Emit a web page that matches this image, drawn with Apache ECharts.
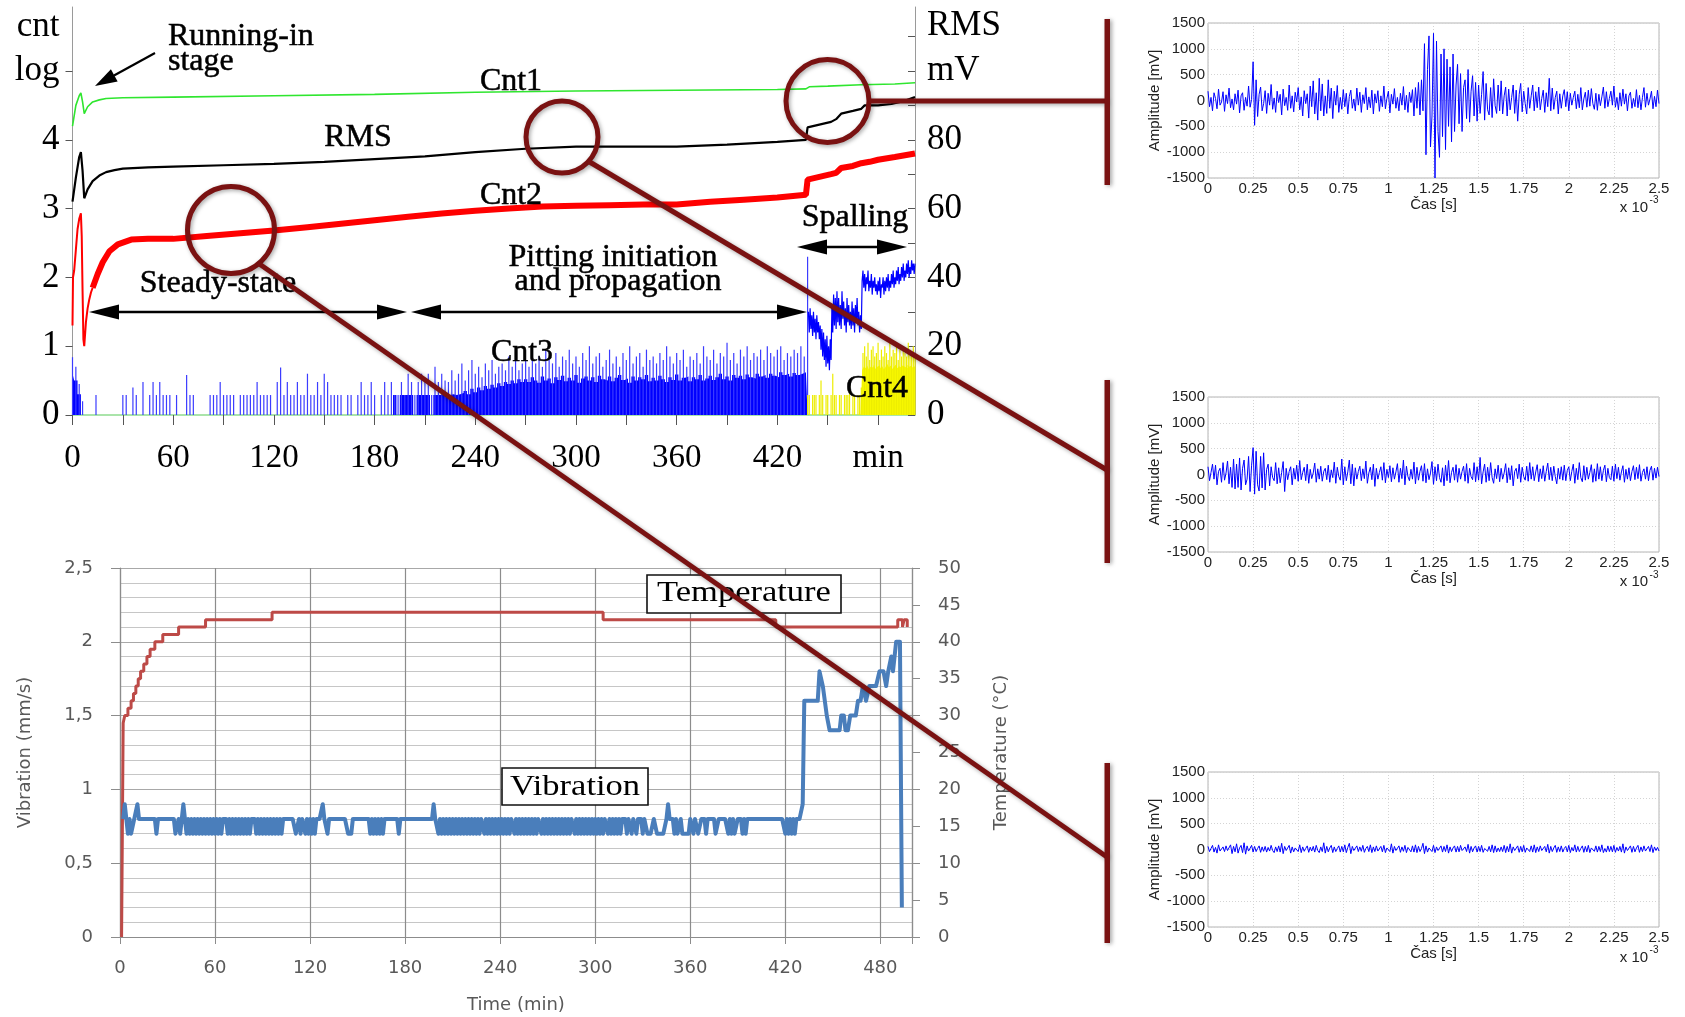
<!DOCTYPE html>
<html><head><meta charset="utf-8"><title>AE monitoring</title>
<script src="https://cdn.jsdelivr.net/npm/echarts@6.0.0/dist/echarts.min.js"></script>
<style>html,body{margin:0;padding:0;background:#fff;}#chart{width:1685px;height:1017px;}</style>
</head><body><div id="chart"></div>
<script>
// ================= TOP-LEFT CHART: AE counts (log) and RMS =================
const topXTickValues = [0,30,60,90,120,150,180,210,240,270,300,330,360,390,420,450,480];
const topXLabelValues = [0,60,120,180,240,300,360,420,480];   // 480 is printed as "min"
const cntTickValues = [0,1,2,3,4,5];
const cntLabelValues = [0,1,2,3,4,5,5.64];                      // 5 -> "log", 5.64 -> "cnt"
const rmsTickValues = [0,10,20,30,40,50,60,70,80,90,100,110];
const rmsLabelValues = [0,20,40,60,80,100,113];                 // 100 -> "mV", 113 -> "RMS"
const TOP_MAX = 5.93;

// Cnt1 (green)
const cnt1T = [0,2,4,5,6,7,9,12,16,20,30,60,120,180,240,300,360,420,437,439,450,470,490,502];
const cnt1V = [4.2,4.5,4.64,4.68,4.55,4.38,4.48,4.55,4.58,4.6,4.61,4.62,4.64,4.66,4.69,4.71,4.72,4.73,4.74,4.77,4.78,4.8,4.81,4.83];

// RMS (black, mV)
const rmsT = [0,2,4,5,6,7,9,12,16,20,25,30,45,60,90,120,150,180,210,240,270,300,330,360,390,420,437,438,445,452,455,458,465,470,472,480,488,495,502];
const rmsV = [62,69,75,76.4,71,63,65.6,68,69.6,70.6,71.2,71.6,72,72.2,72.6,73,73.6,74.4,75.2,76.4,77.4,78,78,78,78.6,79.4,80,83.6,84.4,85.2,86,87.6,88.4,89,90,90,90.4,91.2,92.4];

// Cnt2 (red) – running-in part and remaining part
const cnt2EarlyT = [0,0.3,1,2,3,4,5,5.5,6,6.5,7,8,9,10,11,12];
const cnt2EarlyV = [1.3,2.0,2.1,2.4,2.7,2.85,2.93,2.6,1.8,1.1,1.0,1.35,1.55,1.68,1.78,1.85];
const cnt2T = [12,15,18,22,27,35,45,60,80,100,120,140,160,180,200,220,240,260,280,300,320,340,360,380,400,420,437,438,445,452,455,458,465,470,475,480,490,502];
const cnt2V = [1.85,2.05,2.22,2.38,2.48,2.55,2.56,2.56,2.6,2.64,2.68,2.73,2.78,2.83,2.88,2.93,2.97,3.0,3.03,3.04,3.05,3.06,3.06,3.1,3.13,3.16,3.2,3.42,3.46,3.5,3.52,3.59,3.62,3.66,3.68,3.71,3.75,3.8];

// Cnt3 (blue) sampled every 2 min from t = 0 to 438: solid level and thin peaks
const CNT3_START = 0, CNT3_STEP = 2;
const cnt3Fill = [
 0.6,0.5,0.3,0,0,
 0,0,0,0,0,0,0,0,0,0, 0,0,0,0,0,0,0,0,0,0, 0,0,0,0,0,0,0,0,0,0,
 0,0,0,0,0,0,0,0,0,0, 0,0,0,0,0,0,0,0,0,0, 0,0,0,0,0,0,0,0,0,0,
 0,0,0,0,0,0,0,0,0,0, 0,0,0,0,0,0,0,0,0,0, 0,0,0,0,0,0,0,0,0,0,
 0,0.29,0,0.29,0.29,
 0.29,0.29,0,0.29,0.29,0.29,0.29,0,0.29,0.29,0.29,0.29,0.29,0.3,0.29,
 0.3,0.32,0.35,0.3,0.38,0.33,0.4,0.36,0.42,0.38,0.44,0.4,0.46,0.42,0.48,0.45,0.5,0.46,0.52,0.48,
 0.52,0.48,0.55,0.5,0.47,0.56,0.5,0.53,0.46,0.55,
 0.51,0.57,0.49,0.54,0.5,0.58,0.47,0.53,0.56,0.5,
 0.55,0.48,0.57,0.52,0.5,0.56,0.49,0.54,0.58,0.51,
 0.53,0.47,0.56,0.5,0.55,0.52,0.58,0.49,0.54,0.5,
 0.57,0.52,0.48,0.55,0.51,0.59,0.5,0.54,0.56,0.49,
 0.55,0.52,0.58,0.5,0.53,0.57,0.51,0.55,0.6,0.52,
 0.56,0.5,0.58,0.54,0.57,0.52,0.59,0.55,0.53,0.6,
 0.56,0.58,0.54,0.6,0.57,0.55,0.62,0.58,0.6,0.56,
 0.61,0.58,0.6,0.62,0.6
];
const cnt3Peak = [
 0.84,0.7,0.45,0.2,0,
 0,0,0.29,0,0,0,0,0,0,0,
 0.29,0.29,0,0.4,0.29,0,0.48,0,0.29,0.48,
 0.29,0.48,0.29,0.29,0.29,0,0.29,0,0,0.58,
 0.29,0.29,0,0,0,0,0.29,0.29,0.29,0.48,
 0.29,0.29,0.29,0.29,0,0.29,0.29,0.29,0.29,0.29,
 0.48,0.29,0.29,0.29,0.29,0,0.48,0.69,0.29,0.48,
 0.29,0.29,0.48,0.29,0.29,0.6,0.29,0.29,0.48,0.29,
 0.6,0.48,0.29,0.29,0.29,0.29,0,0.29,0.29,0,
 0.29,0.48,0.29,0.29,0.48,0.29,0,0.29,0.48,0.29,
 0.48,0.29,0.29,0.48,0.29,0.6,0.48,0.29,0.48,0.6,
 0.48,0.6,0.29,0.7,0.48,0.6,0.5,0.48,0.65,0.5,
 0.6,0.75,0.5,0.65,0.8,0.6,0.7,0.55,0.75,0.65,
 0.8,0.6,0.7,0.75,0.65,0.85,0.7,0.8,0.65,0.75,
 0.8,0.7,0.9,0.75,0.85,0.7,0.95,0.8,0.75,0.9,
 0.7,0.85,0.8,0.95,0.75,0.85,0.7,0.9,0.8,1.0,
 0.75,0.85,0.9,0.7,0.8,0.95,0.75,0.85,0.7,0.9,
 0.8,1.0,0.75,0.85,0.9,0.7,0.95,0.8,0.85,0.75,
 0.9,0.8,1.0,0.85,0.75,0.9,0.8,0.95,0.7,0.85,
 0.8,0.9,0.75,1.0,0.85,0.8,0.95,0.75,0.9,0.85,
 1.05,0.8,0.9,0.75,0.95,0.85,1.0,0.8,0.9,0.85,
 0.95,0.8,1.0,0.9,0.85,0.95,1.0,0.8,0.9,0.85,
 0.95,0.9,1.0,0.85,2.3
];

// Cnt3 during spalling (blue noisy trace), every 0.5 min from 438.5 to 502
const SPALL_START = 438.5, SPALL_STEP = 0.5;
const spallV = [
 1.5,1.2,1.55,1.25,1.45,1.15,1.5,1.2,1.4,1.1,1.45,1.2,1.35,1.1,
 1.3,0.95,1.25,0.85,1.2,0.8,1.1,0.7,1.15,0.75,1.0,0.65,1.1,0.8,
 1.6,1.2,1.75,1.3,1.7,1.25,1.8,1.35,
 1.7,1.3,1.6,1.25,1.8,1.4,1.65,1.3,1.55,1.2,1.7,1.35,1.6,1.3,1.5,1.25,1.65,1.3,1.55,1.2,1.6,1.35,1.7,1.3,1.5,1.2,1.45,1.25,
 1.95,2.1,1.85,2.05,1.8,2.0,1.9,2.1,1.8,1.95,
 1.85,2.05,1.75,1.95,1.85,2.0,1.8,1.9,1.75,1.95,
 1.8,2.0,1.7,1.9,1.85,2.0,1.75,1.95,1.8,2.0,
 1.85,2.05,1.8,1.95,1.85,2.05,1.9,2.1,1.85,2.0,
 1.9,2.1,1.95,2.15,1.9,2.05,1.95,2.15,2.0,2.2,
 1.95,2.1,2.0,2.2,2.05,2.25,2.0,2.15,2.05,2.25,
 2.1,2.2,2.05,2.2
];

// Cnt4 (yellow), every 1 min from 438 to 502
const CNT4_START = 438, CNT4_STEP = 1;
const cnt4Fill = [
 0,0,0,0,0,0,0,0,0,0, 0,0,0,0,0,0,0,0,0,0, 0,0,0,0,0,0,0,0,0,0, 0,0,0,
 0.65,0.7,0.68,0.72,0.66,0.7,0.69,0.73,0.67,0.7,
 0.72,0.68,0.71,0.66,0.7,0.74,0.69,0.72,0.67,0.7,
 0.73,0.68,0.71,0.69,0.72,0.7,0.68,0.73,0.7,0.72,
 0.69,0.71
];
const cnt4Peak = [
 0.29,0.29,0,0.29,0.29,0.29,0,0.29,0.5,0.29,
 0,0.29,0.29,0,0.29,0.6,0.29,0.29,0,0.29,
 0.29,0,0.29,0.29,0.29,0.45,0,0.29,0.29,0,
 0.29,0.29,0.4,
 0.9,1.0,0.85,1.05,0.8,0.95,1.0,0.85,0.9,1.05,
 0.8,0.95,0.85,1.0,0.9,0.8,1.05,0.85,0.95,0.9,
 1.0,0.8,0.95,0.85,1.0,0.9,0.85,1.05,0.95,0.9,
 1.0,0.85
];

// ================= BOTTOM-LEFT CHART: vibration and temperature =================
const tempT = [1,2,3,5,7,8.5,10,11.5,13,15,17,19,22,27,37,54,96,305,414,491,494,495,497];
const tempV = [0,29,30,31,32,33,34,35,36,37,38,39,40,41,42,43,44,43,42,43,42,43,42];

const VIB_START = 2, VIB_STEP = 1;   // vibration sampled every minute, t = 2 ... 429
const vibV = [
 0.8,0.9,0.8,0.7,0.8,0.7,0.7,0.8,0.8,0.9,
 0.8,0.8,0.8,0.8,0.8,0.8,0.8,0.8,0.8,0.8,
 0.8,0.7,0.8,0.8,0.8,0.8,0.8,0.8,0.8,0.8,
 0.8,0.8,0.8,0.7,0.7,0.8,0.7,0.8,0.9,0.8,
 0.7,0.8,0.7,0.8,0.7,0.8,0.7,0.8,0.7,0.8,
 0.7,0.8,0.7,0.8,0.7,0.8,0.7,0.8,0.7,0.8,
 0.7,0.8,0.7,0.8,0.8,0.8,0.7,0.8,0.7,0.8,
 0.7,0.8,0.7,0.8,0.7,0.8,0.7,0.8,0.7,0.8,
 0.7,0.8,0.8,0.8,0.7,0.8,0.7,0.8,0.7,0.8,
 0.7,0.8,0.7,0.8,0.7,0.8,0.7,0.8,0.7,0.8,
 0.7,0.8,0.8,0.8,0.8,0.8,0.8,0.8,0.8,0.7,
 0.7,0.8,0.7,0.8,0.8,0.7,0.8,0.7,0.8,0.7,
 0.8,0.7,0.8,0.8,0.8,0.8,0.9,0.8,0.8,0.7,
 0.8,0.8,0.8,0.8,0.8,0.8,0.8,0.8,0.8,0.8,
 0.8,0.8,0.7,0.7,0.7,0.8,0.8,0.8,0.8,0.8,
 0.8,0.8,0.8,0.8,0.8,0.8,0.7,0.8,0.7,0.8,
 0.7,0.8,0.7,0.8,0.7,0.8,0.8,0.8,0.8,0.8,
 0.8,0.8,0.8,0.8,0.7,0.8,0.8,0.8,0.8,0.8,
 0.8,0.8,0.8,0.8,0.8,0.8,0.8,0.8,0.8,0.8,
 0.8,0.8,0.8,0.8,0.8,0.8,0.9,0.8,0.8,0.7,
 0.8,0.7,0.8,0.7,0.8,0.7,0.8,0.7,0.8,0.7,
 0.8,0.7,0.8,0.7,0.8,0.7,0.8,0.7,0.8,0.7,
 0.8,0.7,0.8,0.7,0.8,0.7,0.8,0.8,0.7,0.8,
 0.7,0.8,0.7,0.8,0.7,0.8,0.7,0.8,0.7,0.8,
 0.7,0.8,0.7,0.8,0.7,0.8,0.8,0.7,0.8,0.7,
 0.8,0.7,0.8,0.7,0.8,0.7,0.8,0.7,0.8,0.7,
 0.8,0.7,0.8,0.8,0.7,0.8,0.7,0.8,0.7,0.8,
 0.7,0.8,0.7,0.8,0.7,0.8,0.7,0.8,0.7,0.8,
 0.7,0.8,0.7,0.8,0.8,0.7,0.8,0.7,0.8,0.7,
 0.8,0.7,0.8,0.7,0.8,0.7,0.8,0.7,0.8,0.7,
 0.8,0.7,0.8,0.7,0.8,0.8,0.7,0.8,0.7,0.8,
 0.7,0.8,0.7,0.8,0.7,0.8,0.8,0.8,0.7,0.8,
 0.8,0.7,0.8,0.8,0.7,0.8,0.8,0.8,0.7,0.8,
 0.8,0.7,0.7,0.7,0.7,0.8,0.8,0.7,0.7,0.7,
 0.7,0.7,0.7,0.8,0.9,0.8,0.8,0.8,0.7,0.8,
 0.7,0.7,0.8,0.7,0.7,0.7,0.7,0.7,0.8,0.8,
 0.7,0.8,0.8,0.7,0.7,0.8,0.8,0.8,0.7,0.8,
 0.8,0.8,0.8,0.8,0.7,0.7,0.8,0.8,0.8,0.8,
 0.8,0.8,0.7,0.8,0.7,0.8,0.7,0.7,0.8,0.8,
 0.8,0.7,0.8,0.7,0.8,0.8,0.8,0.8,0.8,0.8,
 0.8,0.8,0.8,0.8,0.8,0.8,0.8,0.8,0.8,0.8,
 0.8,0.8,0.8,0.8,0.8,0.8,0.8,0.8,0.7,0.8,
 0.7,0.8,0.7,0.8,0.7,0.8,0.8,0.8
];
const vibEndT = [430,431,432,440.5,441.6,443.7,446.2,448,454.3,455.3,457,458,459.5,461,462.7,464.5,465.9,467.5,469,471,473,475,477.3,479.5,482,483.7,485,486.9,488,489,490,492.4,493.6];
const vibEndV = [0.8,0.9,1.6,1.6,1.8,1.7,1.5,1.4,1.4,1.5,1.5,1.4,1.4,1.5,1.5,1.5,1.6,1.6,1.7,1.6,1.7,1.7,1.7,1.8,1.8,1.7,1.8,1.9,1.8,1.9,2.0,2.0,0.2];

// ================= RIGHT: three AE waveforms (Amplitude [mV] vs Čas [s] x 10^-3) =================
const SIG_STEP = 2.5 / 300;
const sig1 = [
 180,-120,60,-200,150,40,-160,220,-90,-30,170,-210,110,-60,240,-140,30,-180,130,-70,
 200,-240,90,150,-190,60,-110,280,-130,20,750,-480,400,-310,120,260,-200,-60,190,-250,
 140,-90,310,-170,50,-230,180,-40,120,-280,220,-100,60,-190,300,-150,90,-220,160,-30,
 250,-180,70,-300,190,-60,130,-340,280,-120,380,-260,150,-380,430,-200,320,-300,90,-250,
 400,-150,240,-350,180,-90,290,-230,60,-170,210,-120,140,-260,80,200,-150,30,-200,240,
 -90,160,-230,110,-60,250,-180,70,-140,200,-260,130,-50,190,-210,90,-120,280,-160,40,
 180,-240,120,-70,230,-150,60,-200,140,-90,270,-180,100,-230,160,-40,210,-300,250,-150,
 350,-280,400,-200,1100,-1050,600,1250,-900,-300,1300,-1500,1150,-600,-1100,900,-700,1000,-950,800,
 -500,650,-800,900,-600,300,700,-450,520,-600,250,400,-350,600,-420,180,480,-300,350,-400,
 300,-250,120,560,-380,330,-180,-280,250,-330,420,-100,-250,300,-200,380,-260,90,260,-300,
 220,-180,60,300,-250,200,-400,120,330,-220,180,-60,-260,250,-150,90,300,-200,170,-140,
 260,-180,40,200,-230,150,-120,430,-200,240,-170,60,180,-260,130,-150,90,210,-120,170,
 -200,140,-90,60,180,-160,120,-140,250,-180,30,160,-130,200,-110,230,-60,-170,140,-190,
 120,-100,70,260,-150,170,-120,40,180,-90,280,-130,60,-180,150,-110,220,-70,130,-200,
 90,160,-150,40,-120,210,-140,100,-180,60,250,-130,140,-90,30,180,-160,80,-120,200,
 -60
];
const sig2 = [
 150,-120,40,200,-90,180,-200,60,120,-150,230,-110,30,260,-180,140,-250,300,-280,200,
 -250,320,-300,120,280,-200,-90,350,-330,180,520,-380,450,-200,-320,350,-260,420,-300,100,
 200,-220,150,-60,-120,230,-180,130,-160,40,250,-330,120,-100,60,150,-200,120,-90,180,
 -130,270,-100,40,140,-120,200,-170,100,-80,30,220,-150,110,-90,160,-130,60,120,-100,
 180,-150,90,-60,240,-170,140,-40,-110,300,-200,150,-120,50,280,-180,200,-220,130,-90,
 60,160,-120,110,-80,260,-170,30,140,-100,200,-230,120,-90,40,150,-110,230,-160,100,
 -60,170,-140,130,-90,50,210,-150,120,-80,280,-200,160,-40,-120,100,-90,240,-180,140,
 -110,60,170,-130,210,-160,110,-100,30,250,-190,150,-120,200,-60,-150,130,-220,180,-120,
 270,-160,40,140,-110,190,-150,120,-90,60,160,-130,210,-170,120,-40,-100,230,-140,150,
 -110,330,-180,50,200,-150,140,-120,230,-60,-170,110,-80,180,-140,120,-90,30,210,-160,
 130,-100,170,-220,60,120,-80,200,-150,140,-40,-110,160,-130,230,-90,150,-120,50,190,
 -140,110,-80,170,-130,60,220,-100,140,-120,160,-40,-180,120,-90,150,-110,180,-120,80,
 150,-120,60,200,-170,120,-100,230,-60,-140,170,-110,140,-90,40,190,-150,110,-130,210,
 -90,150,-120,80,180,-140,120,-60,-100,160,-130,200,-80,140,-110,50,170,-150,100,-90,
 130,-120,60,170,-100,140,-80,190,-130,40,110,-90,150,-120,80,160,-110,120,-70,140,
 -40
];
const sig3 = [
 60,-40,20,80,-50,40,-70,90,-30,-60,50,-40,70,-20,-50,90,-80,60,-45,110,
 -70,30,80,-60,130,-90,70,-30,-60,80,-50,60,-40,20,70,-55,50,-35,60,-50,
 40,-30,80,-20,-60,50,-40,70,-50,120,-80,60,-20,-40,80,-70,50,-45,30,60,
 -40,90,-60,50,-35,20,70,-55,45,-30,60,-50,80,-20,-60,50,-40,130,-70,60,
 -45,30,80,-60,50,-40,20,70,-50,60,-45,90,-60,40,120,-80,60,-20,-50,70,
 -40,50,-35,80,-55,20,60,-40,90,-60,50,-40,70,-30,-50,60,-45,80,-60,30,
 50,-40,110,-70,60,-20,-50,70,-55,50,-35,80,-60,40,60,-45,70,-50,90,-60,
 60,-40,20,120,-80,70,-50,30,60,-40,80,-60,50,-20,-35,70,-50,60,-40,90,
 -70,50,-40,30,70,-50,60,-45,80,-20,-55,50,-40,100,-70,60,-45,30,70,-50,
 60,-40,80,-55,20,50,-35,60,-45,90,-60,70,-50,30,-40,50,-40,80,-60,60,
 -45,110,-70,50,-20,-40,70,-55,60,-45,80,-55,30,60,-40,70,-50,90,-60,50,
 -40,70,-20,-50,60,-45,100,-70,60,-40,30,80,-55,50,-40,70,-50,20,60,-45,
 80,-60,40,-30,90,-50,60,-40,20,70,-55,60,-45,80,-60,30,50,-35,70,-50,
 60,-40,90,-60,20,-50,70,-40,60,-45,80,-55,40,-30,60,-50,110,-70,50,-20,
 -40,70,-55,60,-45,30,80,-55,50,-40,70,-30,-50,60,-40,90,-60,50,-20,40,
 -30
];

// ================= build =================
const pairs = (T, V) => T.map((t, i) => [t, V[i]]);
const sampled = (start, step, V) => V.map((v, i) => [start + i * step, v]);

const SERIF = '"Liberation Serif","Times New Roman",serif';
const SANS = '"Liberation Sans",Arial,sans-serif';
const XLS = '"DejaVu Sans",Verdana,sans-serif';
const RED = '#7a1212';

function smallGrid(top) { return {left:1208, width:451, top:top, height:155, show:true, borderColor:'#b4b4b4', borderWidth:1}; }
function smallX(gi) {
  return {type:'value', gridIndex:gi, min:0, max:2.5, interval:0.25,
    axisLine:{show:false}, axisTick:{show:false},
    axisLabel:{margin:3, fontFamily:SANS, fontSize:15, color:'#222', formatter:v=>String(v)},
    splitLine:{show:true, lineStyle:{color:'#d4d4d4', type:[1,2]}},
    name:'Čas [s]', nameLocation:'middle', nameGap:17, nameTextStyle:{fontFamily:SANS, fontSize:15, color:'#222'}};
}
function smallY(gi) {
  return {type:'value', gridIndex:gi, min:-1500, max:1500, interval:500,
    axisLine:{show:false}, axisTick:{show:false},
    axisLabel:{margin:3, fontFamily:SANS, fontSize:15, color:'#222', formatter:v=>String(v)},
    splitLine:{show:true, lineStyle:{color:'#d4d4d4', type:[1,2]}},
    name:'Amplitude [mV]', nameLocation:'middle', nameGap:44, nameTextStyle:{fontFamily:SANS, fontSize:15, color:'#222'}};
}

function txt(text, x, y, size, align, extra) {
  return Object.assign({type:'text', x:x, y:y, z:30, silent:true,
    style:{text:text, fill:'#000', fontSize:size, fontFamily:SERIF, align:align||'center', verticalAlign:'middle', stroke:'#000', lineWidth:0.5}}, extra||{});
}
function head(tx, ty, ux, uy, len, half) {
  const bx = tx - ux * len, by = ty - uy * len;
  return {type:'polygon', z:30, silent:true,
    shape:{points:[[tx,ty],[bx - uy*half, by + ux*half],[bx + uy*half, by - ux*half]]}, style:{fill:'#000'}};
}
function dblArrow(x1, x2, y) {
  return [
    {type:'line', z:30, silent:true, shape:{x1:x1+12, y1:y, x2:x2-12, y2:y}, style:{stroke:'#000', lineWidth:2.5}},
    head(x1, y, -1, 0, 30, 7.5), head(x2, y, 1, 0, 30, 7.5)
  ];
}
function box(text, x, y, w, h, ty) {
  return [
    {type:'rect', z:40, silent:true, shape:{x:x, y:y, width:w, height:h}, style:{fill:'#fff', stroke:'#111', lineWidth:1.6}},
    {type:'text', z:41, silent:true, x:x + w/2, y:ty, scaleX:1.15,
      style:{text:text, fill:'#000', fontSize:30, fontFamily:SERIF, align:'center', verticalAlign:'middle'}}
  ];
}
const redStyle = {stroke:RED, lineWidth:5, shadowBlur:4, shadowColor:'rgba(0,0,0,0.35)', shadowOffsetX:1.5, shadowOffsetY:1.5};
function ring(cx, cy, r) { return {type:'circle', z:100, silent:true, shape:{cx:cx, cy:cy, r:r}, style:Object.assign({fill:'transparent'}, redStyle)}; }
function seg(x1, y1, x2, y2) { return {type:'line', z:100, silent:true, shape:{x1:x1, y1:y1, x2:x2, y2:y2}, style:Object.assign({}, redStyle)}; }
function bar(y1, y2) { return {type:'rect', z:100, silent:true, shape:{x:1104.5, y:y1, width:5.5, height:y2 - y1}, style:{fill:RED, shadowBlur:4, shadowColor:'rgba(0,0,0,0.35)', shadowOffsetX:2, shadowOffsetY:1}}; }
function expo(cx, y) {
  return [
    {type:'text', z:30, silent:true, x:cx, y:y, style:{text:'x 10', fill:'#222', fontSize:15, fontFamily:SANS, align:'center', verticalAlign:'middle'}},
    {type:'text', z:30, silent:true, x:cx + 20, y:y - 7, style:{text:'-3', fill:'#222', fontSize:10, fontFamily:SANS, align:'center', verticalAlign:'middle'}}
  ];
}

const graphics = [].concat(
  [txt('Running-in', 168, 37, 32, 'left'), txt('stage', 168, 62, 32, 'left'),
   {type:'line', z:30, silent:true, shape:{x1:155, y1:53, x2:114, y2:75.5}, style:{stroke:'#000', lineWidth:2.2}},
   head(95, 86, -0.876, 0.482, 22, 7),
   txt('Cnt1', 511, 82, 32), txt('RMS', 358, 138, 32), txt('Cnt2', 511, 196, 32),
   txt('Steady-state', 218, 284, 32),
   txt('Pitting initiation', 613, 258, 32), txt('and propagation', 618, 282, 32),
   txt('Spalling', 855, 218, 32), txt('Cnt3', 522, 353, 32), txt('Cnt4', 877, 389, 32)],
  dblArrow(89, 407, 312), dblArrow(411, 807, 312), dblArrow(797, 907, 247),
  box('Temperature', 647, 575, 194, 38, 593), box('Vibration', 502, 768, 146, 37, 787),
  expo(1634, 207.5), expo(1634, 582), expo(1634, 957.5),
  [ring(827.5, 101, 41.5), ring(562, 137, 36), ring(231, 230, 43.5),
   seg(869, 101, 1107, 101), seg(588, 161, 1107, 470), seg(258, 263, 1107, 857),
   bar(19, 185), bar(380, 563), bar(763, 943)]
);

const option = {
  animation:false,
  backgroundColor:'#fff',
  grid:[
    {left:72.5, top:7, width:842.5, height:408},
    {left:120, top:568, width:792, height:369},
    smallGrid(23), smallGrid(397), smallGrid(772)
  ],
  xAxis:[
    {type:'value', gridIndex:0, min:0, max:502,
      axisLine:{show:true, lineStyle:{color:'#8fdc8f', width:1.5}},
      axisTick:{show:true, customValues:topXTickValues, length:10, lineStyle:{color:'#555'}},
      axisLabel:{customValues:topXLabelValues, formatter:v=>v===480?'min':String(v), margin:27, fontFamily:SERIF, fontSize:33, color:'#000'},
      splitLine:{show:false}},
    {type:'value', gridIndex:1, min:0, max:500, interval:60,
      axisLine:{show:true, lineStyle:{color:'#8c8c8c', width:1.2}},
      axisTick:{show:true, length:7, lineStyle:{color:'#8c8c8c'}},
      axisLabel:{formatter:v=>v%60===0?String(v):'', margin:22, fontFamily:XLS, fontSize:18, color:'#595959'},
      splitLine:{show:true, lineStyle:{color:'#8c8c8c', width:1.2}},
      name:'Time (min)', nameLocation:'middle', nameGap:59, nameTextStyle:{fontFamily:XLS, fontSize:18, color:'#595959'}},
    smallX(2), smallX(3), smallX(4)
  ],
  yAxis:[
    {type:'value', gridIndex:0, position:'left', min:0, max:TOP_MAX,
      axisLine:{show:true, lineStyle:{color:'#9a9a9a'}},
      axisTick:{show:true, customValues:cntTickValues, length:7, lineStyle:{color:'#555'}},
      axisLabel:{customValues:cntLabelValues, formatter:v=>v===5?'log':(v>5.5?'cnt':String(v)), margin:13, fontFamily:SERIF, fontSize:35, color:'#000'},
      splitLine:{show:false}},
    {type:'value', gridIndex:0, position:'right', min:0, max:TOP_MAX*20,
      axisLine:{show:true, lineStyle:{color:'#9a9a9a'}},
      axisTick:{show:true, inside:true, customValues:rmsTickValues, length:7, lineStyle:{color:'#555'}},
      axisLabel:{customValues:rmsLabelValues, formatter:v=>v===100?'mV':(v===113?'RMS':String(v)), margin:12, fontFamily:SERIF, fontSize:35, color:'#000'},
      splitLine:{show:false}},
    {type:'value', gridIndex:1, position:'left', min:0, max:2.5, interval:0.5,
      axisLine:{show:true, lineStyle:{color:'#8c8c8c', width:1.2}},
      axisTick:{show:true, length:9, lineStyle:{color:'#8c8c8c'}},
      minorTick:{show:false, splitNumber:5},
      minorSplitLine:{show:true, lineStyle:{color:'#c6c6c6'}},
      splitLine:{show:true, lineStyle:{color:'#a8a8a8'}},
      axisLabel:{formatter:v=>String(v).replace('.', ','), margin:27, fontFamily:XLS, fontSize:18, color:'#595959'},
      name:'Vibration (mm/s)', nameLocation:'middle', nameGap:86, nameTextStyle:{fontFamily:XLS, fontSize:18, color:'#595959'}},
    {type:'value', gridIndex:1, position:'right', min:0, max:50, interval:5,
      axisLine:{show:true, lineStyle:{color:'#8c8c8c', width:1.2}},
      axisTick:{show:true, length:8, lineStyle:{color:'#8c8c8c'}},
      splitLine:{show:false},
      axisLabel:{margin:26, fontFamily:XLS, fontSize:18, color:'#595959'},
      name:'Temperature (°C)', nameLocation:'middle', nameGap:80, nameTextStyle:{fontFamily:XLS, fontSize:18, color:'#595959'}},
    smallY(2), smallY(3), smallY(4)
  ],
  series:[
    {name:'Cnt3', type:'line', xAxisIndex:0, yAxisIndex:0, data:sampled(CNT3_START, CNT3_STEP, cnt3Fill), step:'middle', symbol:'none',
      lineStyle:{width:0}, areaStyle:{color:'#0000ff', opacity:1}, z:1},
    {name:'Cnt3 peaks', type:'bar', xAxisIndex:0, yAxisIndex:0, data:sampled(CNT3_START, CNT3_STEP, cnt3Peak), barWidth:1.2, barGap:'-100%',
      itemStyle:{color:'#3c3cff'}, z:1},
    {name:'Cnt4', type:'line', xAxisIndex:0, yAxisIndex:0, data:sampled(CNT4_START, CNT4_STEP, cnt4Fill), step:'middle', symbol:'none',
      lineStyle:{width:0}, areaStyle:{color:'#ffff00', opacity:1}, z:1},
    {name:'Cnt4 peaks', type:'bar', xAxisIndex:0, yAxisIndex:0, data:sampled(CNT4_START, CNT4_STEP, cnt4Peak), barWidth:1.2, barGap:'-100%',
      itemStyle:{color:'#eded00'}, z:1},
    {name:'Cnt3 (spalling)', type:'line', xAxisIndex:0, yAxisIndex:0, data:sampled(SPALL_START, SPALL_STEP, spallV), symbol:'none',
      lineStyle:{color:'#0000ff', width:1.2}, z:2},
    {name:'Cnt2', type:'line', xAxisIndex:0, yAxisIndex:0, data:pairs(cnt2EarlyT, cnt2EarlyV), symbol:'none',
      lineStyle:{color:'#ff0000', width:2}, z:3},
    {name:'Cnt2', type:'line', xAxisIndex:0, yAxisIndex:0, data:pairs(cnt2T, cnt2V), symbol:'none',
      lineStyle:{color:'#ff0000', width:6}, z:3},
    {name:'RMS', type:'line', xAxisIndex:0, yAxisIndex:1, data:pairs(rmsT, rmsV), symbol:'none',
      lineStyle:{color:'#000', width:2.2}, z:4},
    {name:'Cnt1', type:'line', xAxisIndex:0, yAxisIndex:0, data:pairs(cnt1T, cnt1V), symbol:'none',
      lineStyle:{color:'#2fe62f', width:1.6}, z:4},

    {name:'Temperature', type:'line', xAxisIndex:1, yAxisIndex:3, data:pairs(tempT, tempV), step:'end', symbol:'none',
      lineStyle:{color:'#bd4a47', width:3}, z:3},
    {name:'Vibration', type:'line', xAxisIndex:1, yAxisIndex:2,
      data:sampled(VIB_START, VIB_STEP, vibV).concat(pairs(vibEndT, vibEndV)), symbol:'none',
      lineStyle:{color:'#4a7ebb', width:4, join:'round'}, z:4},

    {name:'Signal 1', type:'line', xAxisIndex:2, yAxisIndex:4, data:sampled(0, SIG_STEP, sig1), symbol:'none', lineStyle:{color:'#0000ff', width:1}},
    {name:'Signal 2', type:'line', xAxisIndex:3, yAxisIndex:5, data:sampled(0, SIG_STEP, sig2), symbol:'none', lineStyle:{color:'#0000ff', width:1}},
    {name:'Signal 3', type:'line', xAxisIndex:4, yAxisIndex:6, data:sampled(0, SIG_STEP, sig3), symbol:'none', lineStyle:{color:'#0000ff', width:1}}
  ],
  graphic:{elements:graphics}
};

const chart = echarts.init(document.getElementById('chart'), null, {renderer:'canvas'});
chart.setOption(option);
</script>
</body></html>
